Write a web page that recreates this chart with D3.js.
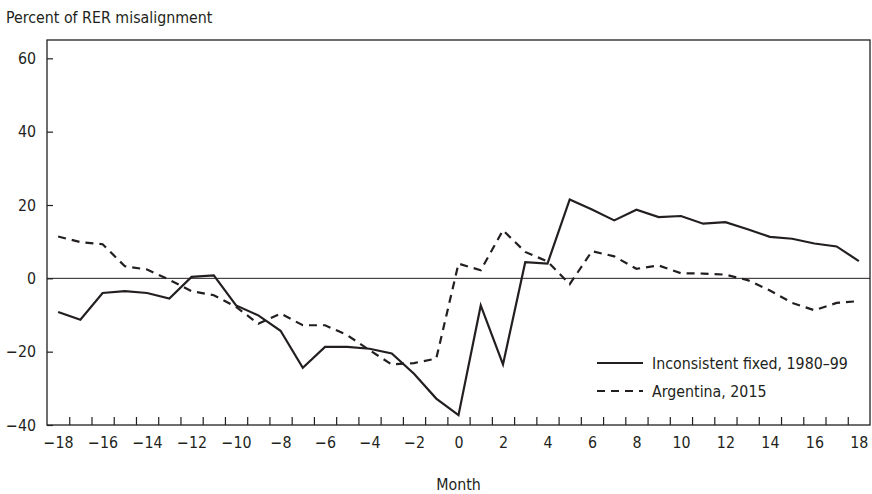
<!DOCTYPE html>
<meta charset="utf-8">
<title>RER misalignment</title>
<script src="https://d3js.org/d3.v7.min.js"></script>
<style>
  body { margin: 0; background: #fff; }
  svg text { font-family: "DejaVu Sans Condensed", "Liberation Sans Narrow", sans-serif; fill: #231f20; }
</style>
<body>
<div id="chart"></div>
</body>
<script>
// months relative to the event, -18 ... 18
months = d3.range(-18, 19)

// Inconsistent fixed, 1980-99
inconsistent = [-9.2, -11.3, -4.0, -3.5, -4.0, -5.5, 0.4, 0.8, -7.4, -10.1, -14.3, -24.4, -18.7,
  -18.7, -19.2, -20.5, -26.0, -32.8, -37.3, -7.4, -23.5, 4.4, 4.0, 21.5, 18.8, 15.8, 18.7,
  16.7, 17.0, 14.9, 15.3, 13.4, 11.3, 10.8, 9.5, 8.7, 4.7]

// Argentina, 2015
argentina = [11.4, 9.9, 9.3, 3.3, 2.4, -0.4, -3.5, -4.6, -7.8, -12.4, -9.6, -12.8, -12.8,
  -15.5, -19.6, -23.5, -23.1, -21.9, 4.0, 2.2, 13.1, 7.2, 4.6, -1.6, 7.4, 6.0, 2.6,
  3.5, 1.4, 1.3, 1.0, -0.5, -3.3, -6.7, -8.7, -6.7, -6.2]

yTicks = [-40, -20, 0, 20, 40, 60]
xLabels = d3.range(-18, 19, 2)

series = [
  {name: "Inconsistent fixed, 1980\u201399", values: inconsistent, dash: null},
  {name: "Argentina, 2015", values: argentina, dash: "8,6"}
]

width = 872
height = 494
margin = {top: 40, right: 2, bottom: 69, left: 47}
fontSize = 15.8

x = d3.scaleLinear()
    .domain([-18.5, 18.5])
    .range([margin.left, width - margin.right])

y = d3.scaleLinear()
    .domain([-40, 65])
    .range([height - margin.bottom, margin.top])

svg = d3.select("#chart").append("svg")
    .attr("width", width)
    .attr("height", height)

// y axis, ticks pointing inward
svg.append("g")
    .attr("transform", `translate(${margin.left},0)`)
    .call(d3.axisLeft(y).tickValues(yTicks).tickSize(-6).tickPadding(11))
    .call(g => g.select(".domain").remove())
    .call(g => g.selectAll("line").attr("stroke", "#231f20").attr("stroke-width", 1.2))
    .call(g => g.selectAll("text").attr("font-size", fontSize))

// x axis: minor ticks between months, labels every two months
svg.append("g")
    .attr("transform", `translate(0,${y(-40)})`)
    .call(d3.axisBottom(x).tickValues(d3.range(-17.5, 18, 1)).tickSize(-8).tickFormat(""))
    .call(g => g.select(".domain").remove())
    .call(g => g.selectAll("line").attr("stroke", "#231f20").attr("stroke-width", 1.2))

svg.append("g")
    .attr("transform", `translate(0,${y(-40)})`)
    .call(d3.axisBottom(x).tickValues(xLabels).tickSize(0).tickPadding(12))
    .call(g => g.select(".domain").remove())
    .call(g => g.selectAll("text").attr("font-size", fontSize))

// frame
svg.append("rect")
    .attr("x", x(-18.5))
    .attr("y", y(65))
    .attr("width", x(18.5) - x(-18.5))
    .attr("height", y(-40) - y(65))
    .attr("fill", "none")
    .attr("stroke", "#231f20")
    .attr("stroke-width", 1.3)

// zero line
svg.append("line")
    .attr("x1", x(-18.5))
    .attr("x2", x(18.5))
    .attr("y1", y(0))
    .attr("y2", y(0))
    .attr("stroke", "#231f20")
    .attr("stroke-width", 1)

line = d3.line()
    .x((d, i) => x(months[i]))
    .y(d => y(d))

svg.append("g")
    .attr("fill", "none")
    .attr("stroke", "#231f20")
    .attr("stroke-width", 2.2)
  .selectAll("path")
  .data(series)
  .join("path")
    .attr("stroke-dasharray", d => d.dash)
    .attr("d", d => line(d.values))

// legend
legend = svg.append("g")
  .selectAll("g")
  .data(series)
  .join("g")
    .attr("transform", (d, i) => `translate(597,${363 + i * 28})`)

legend.append("line")
    .attr("x1", 0)
    .attr("x2", 46)
    .attr("stroke", "#231f20")
    .attr("stroke-width", 2.2)
    .attr("stroke-dasharray", d => d.dash)

legend.append("text")
    .attr("x", 55)
    .attr("dy", "0.35em")
    .attr("font-size", fontSize)
    .text(d => d.name)

// axis titles
svg.append("text")
    .attr("x", 6)
    .attr("y", 23)
    .attr("font-size", fontSize)
    .text("Percent of RER misalignment")

svg.append("text")
    .attr("x", x(0))
    .attr("y", 490)
    .attr("text-anchor", "middle")
    .attr("font-size", fontSize)
    .text("Month")
</script>
